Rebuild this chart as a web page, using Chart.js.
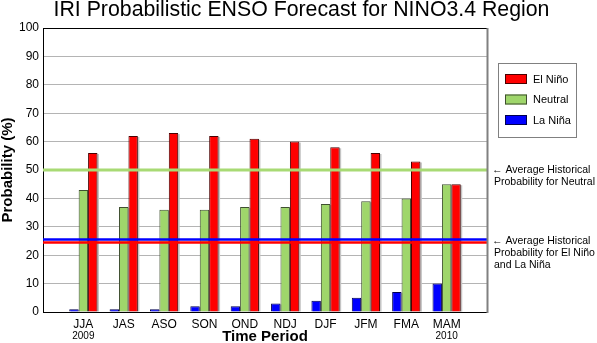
<!DOCTYPE html>
<html lang="en">
<head>
    <meta charset="UTF-8">
    <title>IRI Probabilistic ENSO Forecast</title>
    <script src="https://cdn.jsdelivr.net/npm/chart.js"></script>
    <style>
        html, body { margin: 0; padding: 0; background: #fff; }
        #chartBox { width: 597px; height: 343px; }
    </style>
</head>
<body>
<div id="chartBox"><canvas id="ensoChart"></canvas></div>
<script>
    // Forecast seasons (Jun 2009 issue) and probabilities in percent
    const seasons = ['JJA', 'JAS', 'ASO', 'SON', 'OND', 'NDJ', 'DJF', 'JFM', 'FMA', 'MAM'];
    const yearLabels = ['2009', '', '', '', '', '', '', '', '', '2010'];
    const laNina  = [1, 1, 1, 2, 2, 3, 4, 5, 7, 10];
    const neutral = [43, 37, 36, 36, 37, 37, 38, 39, 40, 45];
    const elNino  = [56, 62, 63, 62, 61, 60, 58, 56, 53, 45];

    // climatological probabilities
    const climNeutral = 50;
    const climEnso = 25;

    const chartTitle = 'IRI Probabilistic ENSO Forecast for NINO3.4 Region';

    const FONT = "'Liberation Sans', Arial, sans-serif";
    Chart.defaults.font.family = FONT;
    Chart.defaults.color = '#000';

    // one empty slot at each end so the groups sit inside the frame
    const labels = ['', ...seasons, ''];
    const pad = arr => [null, ...arr, null];

    const colors = {
        elNino:  { fill: '#ff0000', edge: '#4a0000' },
        neutral: { fill: '#9fd66b', edge: '#3f4f30' },
        laNina:  { fill: '#0000ff', edge: '#000050' }
    };

    // light gray drop shadow on the right of each bar
    const barShadow = {
        id: 'barShadow',
        beforeDatasetsDraw(chart) {
            const ctx = chart.ctx, area = chart.chartArea;
            ctx.save();
            ctx.beginPath();
            ctx.rect(area.left, area.top, area.right - area.left + 4, area.bottom - area.top);
            ctx.clip();
            ctx.fillStyle = '#c4c4c4';
            chart.data.datasets.forEach((ds, i) => {
                chart.getDatasetMeta(i).data.forEach(bar => {
                    if (bar.skip || bar.y == null || isNaN(bar.y)) return;
                    ctx.fillRect(bar.x - bar.width / 2 + 1.5, bar.y + 1, bar.width, bar.base - bar.y - 1);
                });
            });
            ctx.restore();
        }
    };

    // climatology lines and their notes
    const climLines = {
        id: 'climLines',
        afterDatasetsDraw(chart) {
            const ctx = chart.ctx, area = chart.chartArea, y = chart.scales.y;
            const hline = (val, off, color, w) => {
                const py = y.getPixelForValue(val) + off;
                ctx.beginPath();
                ctx.moveTo(area.left, py);
                ctx.lineTo(area.right, py);
                ctx.strokeStyle = color;
                ctx.lineWidth = w;
                ctx.stroke();
            };
            ctx.save();
            hline(climNeutral, 0, '#a8da74', 3);
            hline(climEnso, -1.5, '#0000ff', 2.5);
            hline(climEnso, 1.5, '#ff0000', 2.5);

            ctx.fillStyle = '#000';
            ctx.font = '10.5px ' + FONT;
            ctx.textAlign = 'left';
            ctx.textBaseline = 'middle';
            const x = area.right + 5;
            const yn = y.getPixelForValue(climNeutral);
            ctx.fillText('\u2190 Average Historical', x, yn + 0.5);
            ctx.fillText('Probability for Neutral', x + 2, yn + 12.5);
            const ye = y.getPixelForValue(climEnso);
            ctx.fillText('\u2190 Average Historical', x, ye + 0.5);
            ctx.fillText('Probability for El Ni\u00f1o', x + 2, ye + 12.5);
            ctx.fillText('and La Ni\u00f1a', x + 2, ye + 24.5);
            ctx.restore();
        }
    };

    // title, top and right edges of the plot frame, year tags, legend box
    const frameAndLegend = {
        id: 'frameAndLegend',
        afterDraw(chart) {
            const ctx = chart.ctx, area = chart.chartArea;
            ctx.save();

            ctx.fillStyle = '#000';
            ctx.font = '21.3px ' + FONT;
            ctx.textAlign = 'center';
            ctx.textBaseline = 'middle';
            ctx.fillText(chartTitle, 301.5, 10.5);

            ctx.strokeStyle = '#000';
            ctx.lineWidth = 1;
            ctx.beginPath();
            ctx.moveTo(area.left, area.top + 0.5);
            ctx.lineTo(area.right, area.top + 0.5);
            ctx.stroke();
            ctx.strokeStyle = '#808080';
            ctx.lineWidth = 2;
            ctx.beginPath();
            ctx.moveTo(area.right + 0.5, area.top);
            ctx.lineTo(area.right + 0.5, area.bottom + 1);
            ctx.stroke();

            // years under first and last season
            const xs = chart.scales.x;
            ctx.fillStyle = '#000';
            ctx.font = '10px ' + FONT;
            ctx.textAlign = 'center';
            ctx.textBaseline = 'middle';
            yearLabels.forEach((yr, i) => {
                if (yr) ctx.fillText(yr, xs.getPixelForValue(i + 1), area.bottom + 24);
            });

            // legend
            const lx = area.right + 11, ly = area.top + 35;
            ctx.fillStyle = '#fff';
            ctx.fillRect(lx + 0.5, ly + 0.5, 78, 74);
            ctx.strokeStyle = '#808080';
            ctx.lineWidth = 1;
            ctx.strokeRect(lx + 0.5, ly + 0.5, 78, 74);
            ctx.font = '11px ' + FONT;
            ctx.textAlign = 'left';
            const items = chart.data.datasets.slice().reverse();
            items.forEach((ds, k) => {
                const sy = ly + 11 + k * 20.5;
                ctx.fillStyle = ds.backgroundColor;
                ctx.fillRect(lx + 7, sy, 22, 10);
                ctx.strokeStyle = ds.borderColor;
                ctx.strokeRect(lx + 7.5, sy + 0.5, 21, 9);
                ctx.fillStyle = '#000';
                ctx.fillText(ds.label, lx + 35, sy + 5.5);
            });
            ctx.restore();
        }
    };

    const ctx = document.getElementById('ensoChart').getContext('2d');
    new Chart(ctx, {
        type: 'bar',
        data: {
            labels: labels,
            datasets: [
                { label: 'La Ni\u00f1a', data: pad(laNina), backgroundColor: colors.laNina.fill, borderColor: colors.laNina.edge },
                { label: 'Neutral', data: pad(neutral), backgroundColor: colors.neutral.fill, borderColor: colors.neutral.edge },
                { label: 'El Ni\u00f1o', data: pad(elNino), backgroundColor: colors.elNino.fill, borderColor: colors.elNino.edge }
            ]
        },
        options: {
            responsive: true,
            maintainAspectRatio: false,
            animation: false,
            layout: { padding: { left: 0, right: 110, top: 28, bottom: 0 } },
            datasets: {
                bar: { borderWidth: 1, categoryPercentage: 0.7, barPercentage: 1, borderSkipped: 'bottom' }
            },
            plugins: {
                legend: { display: false },
                tooltip: { enabled: false },
                title: { display: false }
            },
            scales: {
                x: {
                    offset: false,
                    grid: { display: false, drawTicks: false },
                    border: { color: '#000', width: 1 },
                    ticks: { padding: 5, font: { size: 12 }, color: '#000', autoSkip: false, maxRotation: 0 },
                    title: {
                        display: true,
                        text: 'Time Period',
                        font: { size: 15, weight: 'bold', lineHeight: 1 },
                        padding: { top: 0, bottom: -1.5 }
                    },
                    afterFit(scale) { scale.height = 31; }
                },
                y: {
                    min: 0,
                    max: 100,
                    ticks: { stepSize: 10, padding: 4, font: { size: 12 }, color: '#000' },
                    grid: { color: '#b4b4b4', drawTicks: false },
                    border: { color: '#000', width: 1 },
                    title: {
                        display: true,
                        text: 'Probability (%)',
                        font: { size: 15, weight: 'bold', lineHeight: 1 },
                        padding: { top: 0.5, bottom: 0 }
                    },
                    afterFit(scale) { scale.width = 43; }
                }
            }
        },
        plugins: [barShadow, climLines, frameAndLegend]
    });
</script>
</body>
</html>
